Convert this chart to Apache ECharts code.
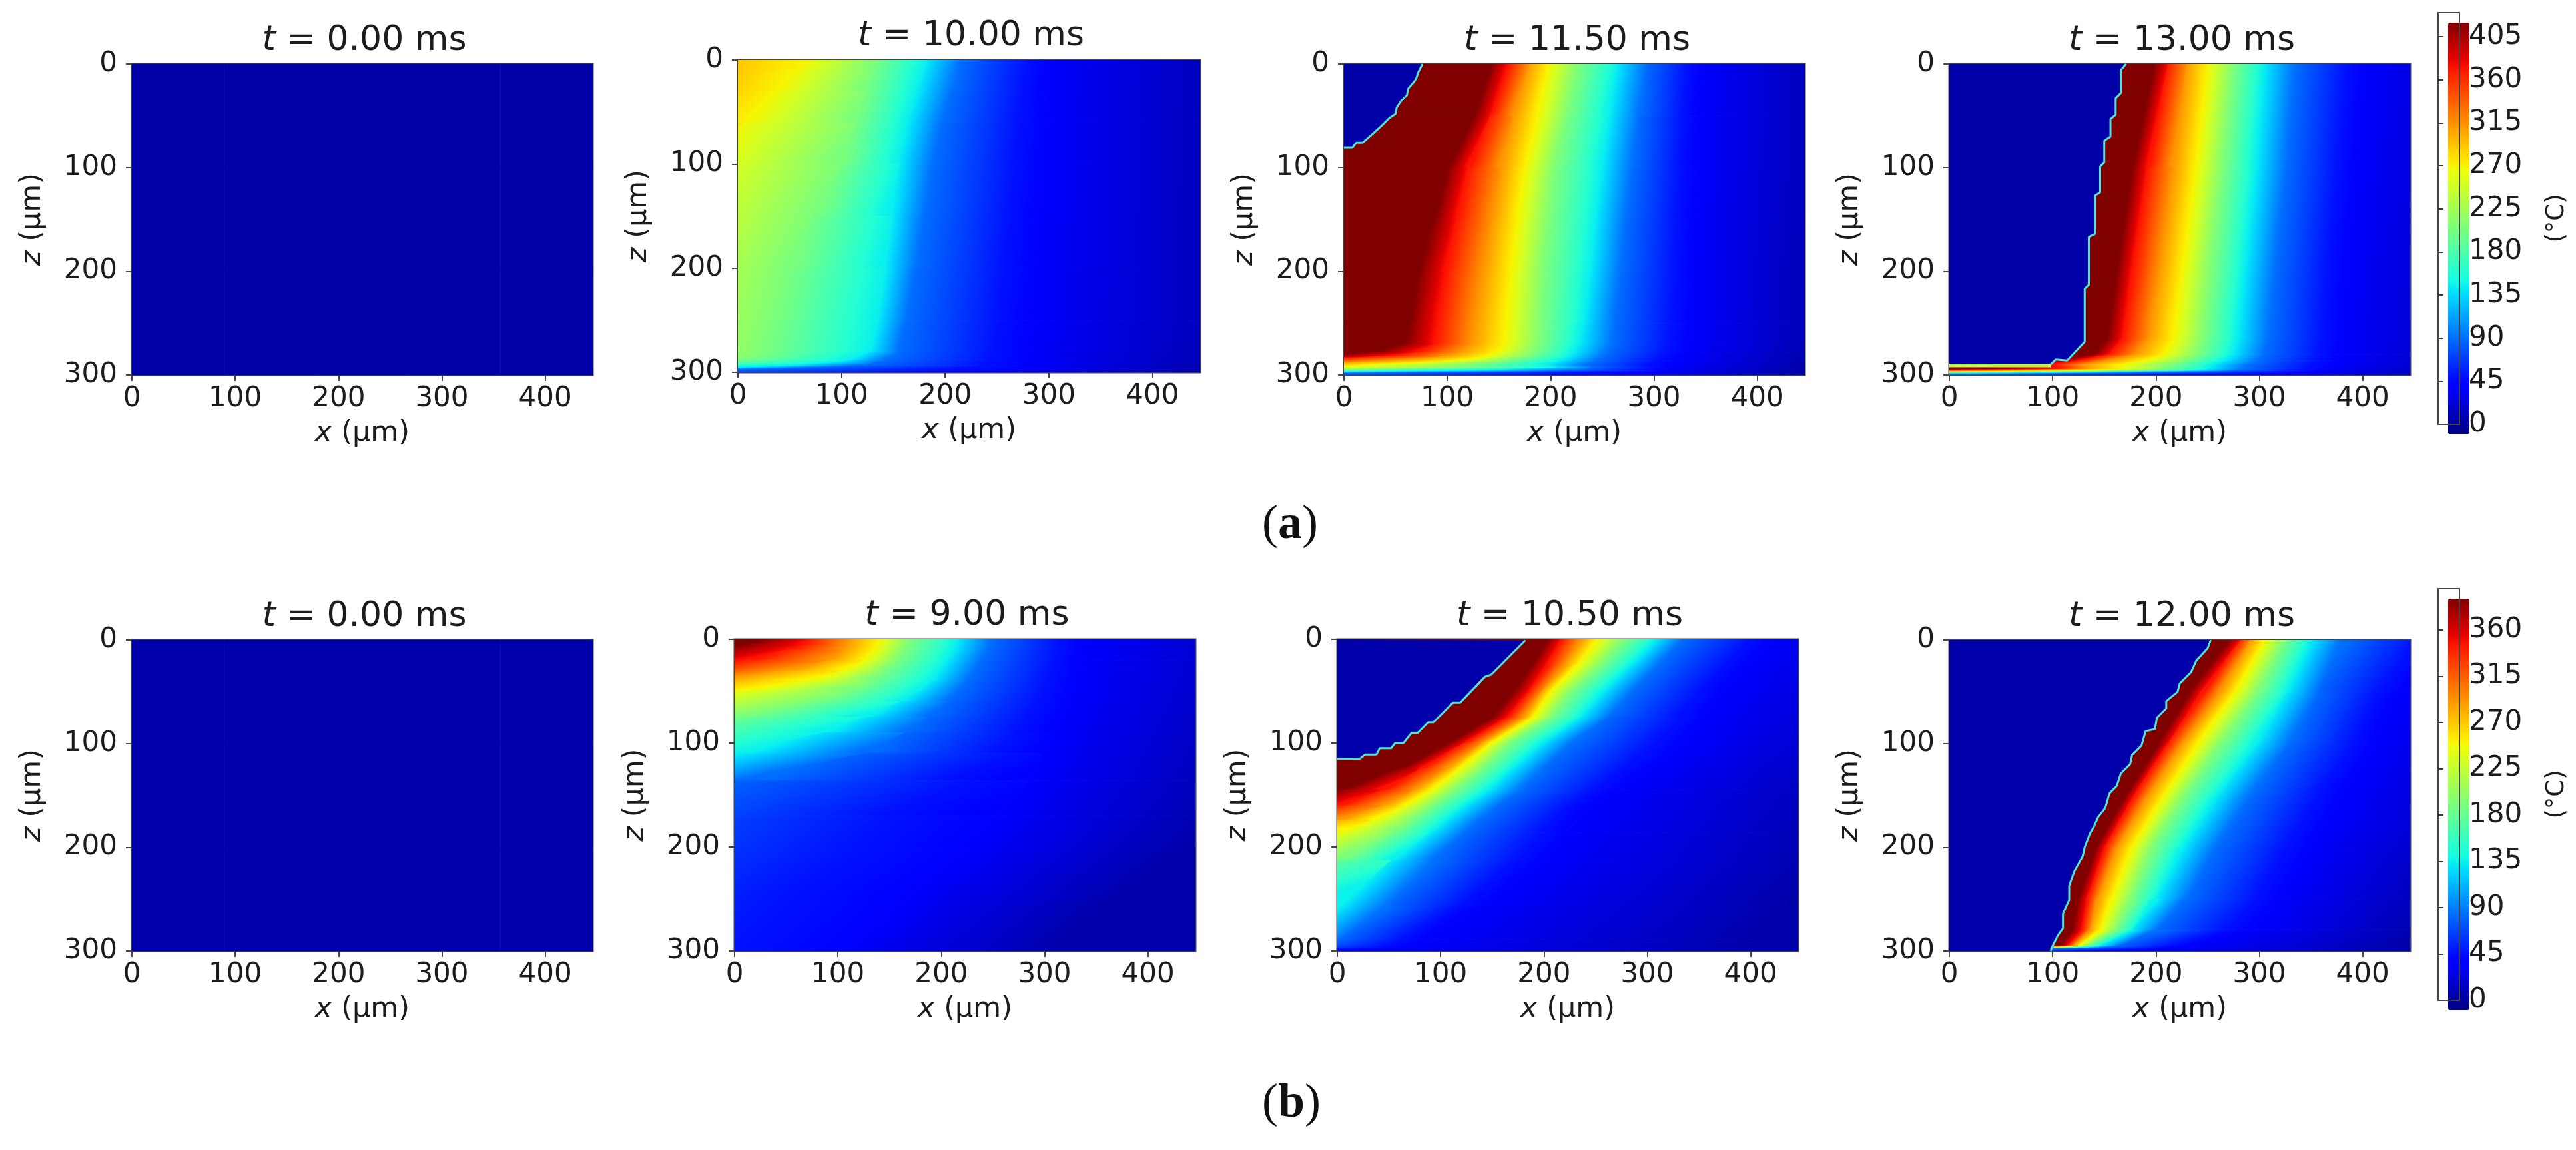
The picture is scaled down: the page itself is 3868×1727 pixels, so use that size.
<!DOCTYPE html>
<html><head><meta charset="utf-8">
<script src="https://cdn.jsdelivr.net/npm/echarts@6/dist/echarts.min.js"></script>
<style>html,body{margin:0;padding:0;background:#fff}#c{width:3868px;height:1727px}</style></head>
<body><div id="c"></div>
<script>
// ---- tick labels and scale limits
const xTicks = [0, 100, 200, 300, 400];
const zTicks = [0, 100, 200, 300];
const xMax = 446, zMax = 300;
const barTicksA = [0, 45, 90, 135, 180, 225, 270, 315, 360, 405];
const barTicksB = [0, 45, 90, 135, 180, 225, 270, 315, 360];
const barMaxA = 430, barMaxB = 400;
const titles = ['0.00', '10.00', '11.50', '13.00', '0.00', '9.00', '10.50', '12.00'];
// ---- isotherm temperatures (°C), hottest first, read through the colour bars
const isoA = [430, 383, 322, 280, 215, 155, 100, 47, 15];
const isoB = [400, 356, 300, 260, 200, 145, 93, 44, 15];
// ---- initial field (°C)
const initialField = [[15,15,15,15,15],[15,15,15,15,15],[15,15,15,15,15]];
// ---- each row: depth z (µm), then x (µm) of the coolest-aligned isotherms at that depth
const rowsA2 = [
[0,-70,67,132,182,215,300,500],[10,-60,55,128,178,213,298,500],[30,-70,35,122,172,207,298,500],
[60,-100,5,112,163,197,296,500],[100,-40,100,155,188,294,500],[150,-70,72,148,180,290,500],
[200,-100,50,142,172,285,500],[250,-110,35,135,162,282,500],[280,-120,25,128,155,278,490],
[288,-150,10,105,145,276,480],[291,-60,90,130,276,480],[294,30,120,275,470],[297,-60,0,262,460],[300,-100,250,450]];
const rowsA3 = [
[0,142,160,180,197,228,264,293,345,480],[50,127,142,164,188,216,256,286,343,480],
[100,101,120,153,175,205,249,279,341,480],[150,87,109,144,168,199,243,273,339,475],
[200,72,98,135,162,194,238,268,338,470],[250,63,90,127,157,192,231,262,336,470],
[270,59,87,124,155,190,227,260,334,470],[278,28,70,112,148,185,222,255,330,465],
[282,-30,40,98,135,178,218,250,326,460],[286,-150,-60,50,110,160,210,245,322,455],
[290,-60,30,125,195,235,315,450],[293,-40,120,205,240,315,450],[296,-100,100,215,305,445],
[298,-150,30,285,440],[300,-100,250,430]];
const rowsA4 = [
[0,199,212,230,250,276,304,335,401,560],[100,177,192,217,239,265,296,326,392,550],
[200,162,177,204,225,254,285,315,383,540],[265,153,168,193,217,247,278,309,379,535],
[280,140,155,181,208,241,274,304,377,530],[286,103,125,155,190,230,265,300,375,525],
[290,60,100,130,165,215,255,290,370,520],[294,30,110,135,165,210,250,285,365,515],
[296,-60,50,110,180,235,275,355,510],[298,-150,-50,60,180,330,500],[300,-50,270,450]];
const rowsB2 = [
[0,26,70,111,141,170,215,248,335,560],[5,8,68,108,138,168,213,247,335,558],
[10,-20,50,105,135,165,211,245,334,556],[20,-80,10,92,125,158,205,238,332,552],
[30,-150,-60,50,105,145,198,232,330,545],[40,-200,-130,-40,70,130,190,225,328,540],
[50,-180,-100,-5,110,176,216,326,535],[60,-160,-70,80,160,205,322,530],
[75,-150,-5,125,187,315,520],[90,-100,85,165,308,515],[110,-180,0,125,298,505],
[136,-120,0,285,490],[170,-150,255,465],[200,-200,225,440],[250,-300,165,370],[300,-350,110,300]];
const rowsB3 = [
[0,204,217,236,252,278,308,334,420,640],[25,188,203,220,232,255,283,310,395,620],
[50,171,186,198,206,227,256,286,371,600],[75,150,165,180,190,207,235,262,352,580],
[100,108,123,140,148,167,197,227,335,560],[125,60,80,105,118,140,168,199,300,530],
[145,0,45,75,90,115,145,178,270,515],[160,-60,0,45,65,92,123,155,245,505],
[174,-150,-60,0,35,72,104,138,232,495],[186,-100,0,55,90,123,220,485],
[213,-80,0,52,92,200,470],[257,0,50,138,430],[289,-40,0,79,405],[294,-100,-20,70,400],
[297,-50,60,395],[300,-20,390]];
const rowsB4 = [
[0,271,282,291,306,324,350,379,480,700],[50,232,245,263,276,300,326,357,431,640],
[100,203,212,225,241,263,296,329,410,600],[150,171,179,193,208,228,258,291,379,570],
[200,142,151,162,177,197,225,258,348,520],[250,125,133,144,157,177,199,230,318,480],
[280,118,129,136,146,162,177,199,291,460],[295,107,114,120,125,133,146,164,225,445],
[297,-20,40,80,100,108,125,145,210,440],[300,-20,0,170,430]];
// ---- melt front [x, z] in µm
const frontA3 = [[76,0],[72,8],[70,14],[68,17],[62,24],[61,30],[55,36],[51,42],[50,48],[44,52],[36,60],[25,70],[18,76],[12,76],[8,81],[0,81]];
const frontA4 = [[171,0],[166,6],[166,28],[161,33],[161,49],[156,53],[156,70],[150,74],[150,95],[146,99],[146,124],[141,127],[141,164],[135,167],[135,213],[131,217],[131,268],[114,286],[103,285],[98,290],[0,290]];
const frontB3 = [[182,1],[149,34],[143,36],[119,61],[112,61],[93,80],[88,80],[78,90],[72,90],[64,100],[56,100],[52,105],[41,105],[38,111],[27,111],[22,115],[0,115]];
const frontB4 = [[253,0],[250,8],[239,20],[234,31],[223,42],[221,50],[210,59],[210,66],[201,75],[199,86],[190,88],[186,102],[177,111],[175,120],[166,129],[162,141],[155,148],[151,162],[144,171],[140,180],[136,187],[131,200],[129,209],[121,223],[116,237],[116,251],[110,264],[110,278],[105,285],[100,295],[98,300]];
const floorLayerA4 = [[0,291],[98,291]];

// ---- jet palette
const jetAnchors = {
  r: [[0,0],[.35,0],[.66,1],[.89,1],[1,.5]],
  g: [[0,0],[.125,0],[.375,1],[.64,1],[.91,0],[1,0]],
  b: [[0,.5],[.11,1],[.34,1],[.65,0],[1,0]]
};
function ch(a, t) {
  t = Math.min(1, Math.max(0, t));
  for (let i = 1; i < a.length; i++) if (t <= a[i][0]) {
    const u = (t - a[i-1][0]) / (a[i][0] - a[i-1][0]);
    return Math.round(255 * (a[i-1][1] + u * (a[i][1] - a[i-1][1])));
  }
  return Math.round(255 * a[a.length-1][1]);
}
const jet = t => `rgb(${ch(jetAnchors.r,t)},${ch(jetAnchors.g,t)},${ch(jetAnchors.b,t)})`;
const jetPalette = Array.from({length: 65}, (_, i) => jet(i / 64));

// ---- layout (px): left, right, top, bottom
const boxes = [[198,890,96,563],[1108,1802,90,559],[2018,2710,96,563],[2927,3619,96,563],
               [198,890,961,1428],[1103,1795,960,1428],[2008,2700,960,1428],[2927,3619,961,1428]];
const titlePos = [[542,60],[1453,53],[2363,60],[3271,60],[542,925],[1447,923],[2352,924],[3271,925]];
const bars = [[3661,3693,19,637],[3661,3693,884,1502]];
const font = 'DejaVu Sans', ink = '#1c1c1c', spine = '#444';
const tickFont = 42;

const grids = [], xAxes = [], yAxes = [], series = [], titleList = [];
boxes.forEach((b, i) => {
  grids.push({left: b[0], top: b[2], width: b[1]-b[0], height: b[3]-b[2], show: true,
    borderColor: spine, borderWidth: 3, backgroundColor: 'transparent'});
  xAxes.push({type:'value', gridIndex:i, min:0, max:xMax, position:'bottom',
    name:'{i|x} (µm)', nameLocation:'middle', nameGap:66,
    nameTextStyle:{fontFamily:font, fontSize:43, color:ink, rich:{i:{fontFamily:font, fontSize:43, fontStyle:'italic', color:ink}}},
    axisLine:{show:true, onZero:false, lineStyle:{color:spine, width:2}},
    axisTick:{show:true, length:9, customValues:xTicks, lineStyle:{color:spine, width:2}},
    axisLabel:{customValues:xTicks, fontFamily:font, fontSize:tickFont, color:ink, margin:15, showMaxLabel:true},
    splitLine:{show:false}});
  yAxes.push({type:'value', gridIndex:i, min:0, max:zMax, inverse:true, position:'left',
    name:'{i|z} (µm)', nameLocation:'middle', nameGap:128, nameRotate:90,
    nameTextStyle:{fontFamily:font, fontSize:43, color:ink, rich:{i:{fontFamily:font, fontSize:43, fontStyle:'italic', color:ink}}},
    axisLine:{show:true, onZero:false, lineStyle:{color:spine, width:2}},
    axisTick:{show:true, length:9, customValues:zTicks, lineStyle:{color:spine, width:2}},
    axisLabel:{customValues:zTicks, fontFamily:font, fontSize:tickFont, color:ink, margin:22},
    splitLine:{show:false}});
  titleList.push({text:'{i|t} = ' + titles[i] + ' ms', left:titlePos[i][0], top:titlePos[i][1]-30, textAlign:'center',
    textStyle:{fontFamily:font, fontSize:52, fontWeight:'normal', color:ink,
      rich:{i:{fontFamily:font, fontSize:52, fontStyle:'italic', color:ink}}}});
});
// colour-bar axes: grids 8 and 9
[[bars[0],barMaxA,barTicksA],[bars[1],barMaxB,barTicksB]].forEach((c, j) => {
  const b = c[0], gi = 8 + j;
  grids.push({left:b[0], top:b[2], width:b[1]-b[0], height:b[3]-b[2], show:true, borderColor:spine, borderWidth:2, backgroundColor:'transparent', z:5});
  xAxes.push({type:'value', gridIndex:gi, show:false, min:0, max:1});
  yAxes.push({type:'value', gridIndex:gi, min:0, max:c[1], position:'right',
    name:'(°C)', nameLocation:'middle', nameGap:128, nameRotate:90,
    nameTextStyle:{fontFamily:font, fontSize:37, color:ink},
    axisLine:{show:false}, splitLine:{show:false},
    axisTick:{show:true, length:8, customValues:c[2], lineStyle:{color:spine, width:2}},
    axisLabel:{customValues:c[2], fontFamily:font, fontSize:tickFont, color:ink, margin:14}, z:6});
});
// hidden category axes for the initial-field heatmaps (indexes 10, 11)
[0, 4].forEach(gi => {
  xAxes.push({type:'category', gridIndex:gi, show:false, data:initialField[0].map((_, i) => i)});
  yAxes.push({type:'category', gridIndex:gi, show:false, data:initialField.map((_, i) => i)});
});
[10, 11].forEach(ax => {
  const cells = [];
  initialField.forEach((row, r) => row.forEach((v, c) => cells.push([c, r, v])));
  series.push({type:'heatmap', xAxisIndex:ax, yAxisIndex:ax, data:cells, silent:true, itemStyle:{borderWidth:0}});
});

function addField(gi, rows, iso, tMax) {
  const n = iso.length;
  series.push({
    type:'custom', xAxisIndex:gi, yAxisIndex:gi, coordinateSystem:'cartesian2d', clip:true, silent:true, z:2,
    data: rows.slice(0, -1).map((_, i) => [i]),
    renderItem(params, api) {
      const j = api.value(0), r0 = rows[j], r1 = rows[j+1];
      const xsOf = r => { const a = r.slice(1); while (a.length < n) a.unshift(a[0] - 200); return a; };
      const a = xsOf(r0), b = xsOf(r1), kids = [];
      for (let k = -1; k < n; k++) {
        const xl0 = k < 0 ? -4000 : a[k], xl1 = k < 0 ? -4000 : b[k];
        const xr0 = k === n-1 ? 4000 : a[k+1], xr1 = k === n-1 ? 4000 : b[k+1];
        if (Math.max(xr0, xr1) < 0 || Math.min(xl0, xl1) > xMax) continue;
        const A = api.coord([xl0, r0[0]]), B = api.coord([xl1, r1[0]]);
        const C = api.coord([xr1, r1[0]]), D = api.coord([xr0, r0[0]]);
        let fill;
        if (k < 0) fill = jet(iso[0] / tMax);
        else if (k === n-1) fill = jet(iso[n-1] / tMax);
        else {
          const ex = (B[0]-A[0] + C[0]-D[0]) / 2, ey = (B[1]-A[1] + C[1]-D[1]) / 2, len = Math.hypot(ex, ey);
          const nx = -ey / len, ny = ex / len;
          const p0 = [(A[0]+B[0])/2, (A[1]+B[1])/2], p1 = [(C[0]+D[0])/2, (C[1]+D[1])/2];
          const d = (p1[0]-p0[0])*nx + (p1[1]-p0[1])*ny;
          const stops = [0, .25, .5, .75, 1].map(s => ({offset:s, color:jet((iso[k] + s*(iso[k+1]-iso[k])) / tMax)}));
          fill = new echarts.graphic.LinearGradient(p0[0], p0[1], p0[0]+nx*d, p0[1]+ny*d, stops, true);
        }
        kids.push({type:'polygon', shape:{points:[A,B,C,D]}, style:{fill, stroke:fill, lineWidth:1}});
      }
      return {type:'group', children:kids};
    }
  });
}
function addFront(gi, front, tMax, voidT) {
  series.push({
    type:'custom', xAxisIndex:gi, yAxisIndex:gi, coordinateSystem:'cartesian2d', clip:true, silent:true, z:3,
    data:[[0]],
    renderItem(params, api) {
      const last = front[front.length-1];
      const pts = front.concat([[0, last[1]], [0, 0]]).map(p => api.coord(p));
      return {type:'polygon', shape:{points:pts}, style:{fill:jet(voidT / tMax)}};
    }
  });
  series.push({type:'line', xAxisIndex:gi, yAxisIndex:gi, data:front, symbol:'none', silent:true, z:4, clip:true,
    lineStyle:{color:'#4fe6d8', width:3}});
}
addField(1, rowsA2, isoA.slice(2), barMaxA);
addField(2, rowsA3, isoA, barMaxA);
addField(3, rowsA4, isoA, barMaxA);
addField(5, rowsB2, isoB, barMaxB);
addField(6, rowsB3, isoB, barMaxB);
addField(7, rowsB4, isoB, barMaxB);
addFront(2, frontA3, barMaxA, 15);
addFront(3, frontA4, barMaxA, 15);
addFront(6, frontB3, barMaxB, 15);
addFront(7, frontB4, barMaxB, 15);
series.push({type:'line', xAxisIndex:3, yAxisIndex:3, data:floorLayerA4, symbol:'none', silent:true, z:4,
  lineStyle:{color:'#c8f040', width:5}});

const vm = (idx, max, b) => ({type:'continuous', seriesIndex:idx, min:0, max, calculable:false, realtime:false,
  left:b[0], top:b[2], itemWidth:b[1]-b[0], itemHeight:b[3]-b[2], text:['',''], showLabel:false,
  inRange:{color:jetPalette}, textStyle:{fontSize:1, color:'transparent'}, z:4});

const caption = (ch, cx, cy) => ({type:'text', left:cx-44, top:cy-42, z:10,
  style:{rich:{p:{fontFamily:'Liberation Serif', fontSize:72, fill:'#111'}, q:{fontFamily:'Liberation Serif', fontSize:72, fontWeight:'bold', fill:'#111'}},
    text:'{p|(}{q|'+ch+'}{p|)}'}});

const chart = echarts.init(document.getElementById('c'), null, {renderer:'canvas'});
chart.setOption({
  animation:false, backgroundColor:'#fff', title:titleList, grid:grids, xAxis:xAxes, yAxis:yAxes,
  visualMap:[vm(0, barMaxA, bars[0]), vm(1, barMaxB, bars[1])],
  series,
  graphic:[caption('a', 1939, 795), caption('b', 1939, 1664)]
});
</script></body></html>
